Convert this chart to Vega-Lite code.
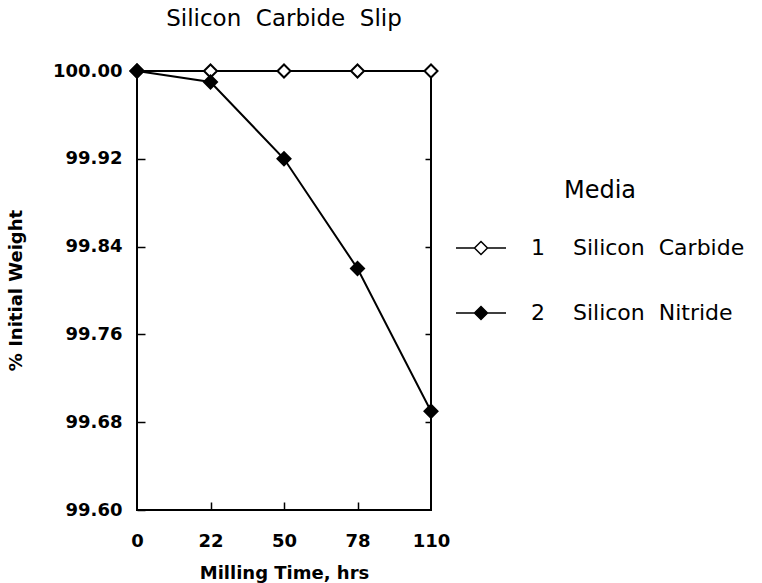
{
  "$schema": "https://vega.github.io/schema/vega-lite/v6.json",
  "autosize": "none",
  "width": 294,
  "height": 439,
  "padding": {"left": 137, "top": 71, "right": 331, "bottom": 73},
  "background": "white",
  "title": {
    "text": "Silicon\u00a0\u00a0Carbide\u00a0\u00a0Slip",
    "font": "DejaVu Sans",
    "fontSize": 23,
    "fontWeight": "normal",
    "color": "black",
    "anchor": "middle",
    "offset": 29
  },
  "config": {
    "view": {"stroke": "black", "strokeWidth": 2},
    "axis": {
      "domain": false,
      "grid": false,
      "labelFont": "DejaVu Sans",
      "labelFontWeight": "bold",
      "labelFontSize": 18,
      "labelColor": "black",
      "titleFont": "DejaVu Sans",
      "titleFontWeight": "bold",
      "titleFontSize": 18,
      "titleColor": "black",
      "tickColor": "black",
      "tickWidth": 1.5
    }
  },
  "data": {
    "values": [
      {"time": 0, "media": "Silicon Carbide", "weight": 100.0},
      {"time": 22, "media": "Silicon Carbide", "weight": 100.0},
      {"time": 50, "media": "Silicon Carbide", "weight": 100.0},
      {"time": 78, "media": "Silicon Carbide", "weight": 100.0},
      {"time": 110, "media": "Silicon Carbide", "weight": 100.0},
      {"time": 0, "media": "Silicon Nitride", "weight": 100.0},
      {"time": 22, "media": "Silicon Nitride", "weight": 99.99},
      {"time": 50, "media": "Silicon Nitride", "weight": 99.92},
      {"time": 78, "media": "Silicon Nitride", "weight": 99.82},
      {"time": 110, "media": "Silicon Nitride", "weight": 99.69}
    ]
  },
  "resolve": {"axis": {"x": "independent", "y": "independent"}},
  "layer": [
    {
      "mark": {"type": "line", "color": "black", "strokeWidth": 2},
      "encoding": {
        "x": {
          "field": "time",
          "type": "ordinal",
          "sort": [0, 22, 50, 78, 110],
          "scale": {"type": "point", "padding": 0},
          "axis": {
            "title": "Milling Time, hrs",
            "labelAngle": 0,
            "ticks": false,
            "labelPadding": 22,
            "titleY": 63,
            "titleBaseline": "middle"
          }
        },
        "y": {
          "field": "weight",
          "type": "quantitative",
          "scale": {"domain": [99.6, 100.0], "nice": false, "zero": false},
          "axis": {
            "title": "% Initial Weight",
            "values": [99.6, 99.68, 99.76, 99.84, 99.92, 100.0],
            "format": ".2f",
            "tickSize": -8,
            "zindex": 1,
            "labelPadding": 23,
            "titleX": -121,
            "titleY": 219,
            "titleAngle": -90,
            "titleBaseline": "middle"
          }
        },
        "detail": {"field": "media"}
      }
    },
    {
      "mark": {"type": "point", "shape": "diamond", "size": 170, "stroke": "black", "strokeWidth": 2, "opacity": 1},
      "encoding": {
        "x": {
          "field": "time",
          "type": "ordinal",
          "sort": [0, 22, 50, 78, 110],
          "axis": {
            "orient": "top",
            "offset": -439,
            "title": null,
            "labels": false,
            "tickSize": 8,
            "zindex": 1,
            "values": [22, 50, 78]
          }
        },
        "y": {
          "field": "weight",
          "type": "quantitative",
          "axis": {
            "orient": "right",
            "title": null,
            "labels": false,
            "tickSize": -6,
            "zindex": 1,
            "values": [99.68, 99.76, 99.84, 99.92]
          }
        },
        "fill": {
          "field": "media",
          "type": "nominal",
          "scale": {"domain": ["Silicon Carbide", "Silicon Nitride"], "range": ["white", "black"]},
          "legend": {
            "title": "\u00a0\u00a0\u00a0\u00a0\u00a0\u00a0\u00a0\u00a0Media",
            "orient": "none",
            "legendX": 318,
            "legendY": 108,
            "padding": 0,
            "titleFont": "DejaVu Sans",
            "titleFontWeight": "normal",
            "titleFontSize": 24,
            "titleColor": "black",
            "titleAnchor": "middle",
            "titlePadding": 19,
            "labelFont": "DejaVu Sans",
            "labelFontSize": 22,
            "labelColor": "black",
            "labelOffset": 24,
            "labelLimit": 400,
            "labelExpr": "datum.label == 'Silicon Carbide' ? '1\u00a0\u00a0\u00a0\u00a0Silicon\u00a0\u00a0Carbide' : '2\u00a0\u00a0\u00a0\u00a0Silicon\u00a0\u00a0Nitride'",
            "symbolType": "M-1,0H-0.26M0.26,0H1M0,-0.26L0.26,0L0,0.26L-0.26,0Z",
            "symbolSize": 2500,
            "symbolStrokeColor": "black",
            "symbolStrokeWidth": 1.5,
            "symbolOpacity": 1,
            "rowPadding": 28
          }
        }
      }
    }
  ]
}
